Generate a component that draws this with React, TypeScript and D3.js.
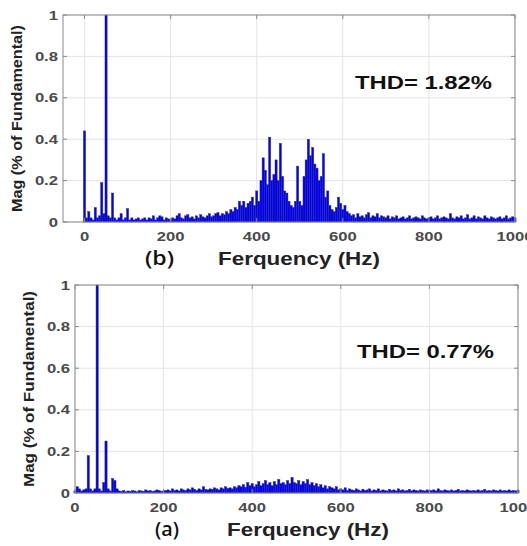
import React, { useEffect } from "react";
import * as d3 from "d3";

// spectrum bins, 5 Hz apart, 0..1000 Hz
const binHz = 5;

// (b) upper plot, THD 1.82%
const magB = [
  0.44, 0.02, 0.05, 0.02, 0.01, 0.07, 0.02, 0.03, 0.19, 0.04, 1.0, 0.03, 0.02, 0.14, 0.02, 0.01, 0.02, 0.04, 0.01, 0.02,
  0.065, 0.01, 0.02, 0.01, 0.015, 0.02, 0.01, 0.015, 0.02, 0.01, 0.02, 0.015, 0.03, 0.01, 0.02, 0.03, 0.025, 0.01, 0.02, 0.015,
  0.01, 0.02, 0.015, 0.03, 0.04, 0.02, 0.015, 0.03, 0.035, 0.02, 0.025, 0.015, 0.03, 0.02, 0.035, 0.025, 0.02, 0.03, 0.04, 0.025,
  0.03, 0.04, 0.045, 0.03, 0.04, 0.035, 0.05, 0.04, 0.06, 0.05, 0.07, 0.06, 0.1, 0.08, 0.1, 0.07, 0.09, 0.1, 0.12, 0.08,
  0.15, 0.1, 0.2, 0.31, 0.25, 0.18, 0.41, 0.2, 0.23, 0.3, 0.2, 0.38, 0.22, 0.15, 0.14, 0.1, 0.08, 0.07, 0.1, 0.27,
  0.1, 0.08, 0.22, 0.3, 0.4, 0.32, 0.36, 0.28, 0.26, 0.2, 0.22, 0.33, 0.12, 0.15, 0.08, 0.06, 0.05, 0.07, 0.12, 0.09,
  0.06, 0.08, 0.05, 0.04, 0.03, 0.035, 0.02, 0.04, 0.025, 0.03, 0.02, 0.035, 0.045, 0.02, 0.03, 0.025, 0.04, 0.02, 0.03, 0.025,
  0.02, 0.03, 0.015, 0.025, 0.02, 0.03, 0.015, 0.02, 0.025, 0.015, 0.02, 0.03, 0.015, 0.02, 0.025, 0.02, 0.015, 0.03, 0.02, 0.015,
  0.02, 0.025, 0.015, 0.02, 0.03, 0.015, 0.02, 0.025, 0.02, 0.015, 0.04, 0.02, 0.015, 0.025, 0.02, 0.03, 0.015, 0.02, 0.035, 0.015,
  0.02, 0.03, 0.015, 0.025, 0.02, 0.015, 0.03, 0.02, 0.015, 0.025, 0.02, 0.015, 0.02, 0.025, 0.015, 0.02, 0.03, 0.015, 0.02, 0.025,
  0.02,
];

// (a) lower plot, THD 0.77%
const magA = [
  0.01, 0.03, 0.02, 0.01, 0.015, 0.02, 0.18, 0.02, 0.01, 0.02, 1.0, 0.02, 0.01, 0.05, 0.25, 0.02, 0.01, 0.07, 0.06, 0.02,
  0.01, 0.008, 0.012, 0.006, 0.01, 0.008, 0.012, 0.01, 0.006, 0.012, 0.01, 0.008, 0.015, 0.01, 0.012, 0.008, 0.01, 0.015, 0.012, 0.008,
  0.01, 0.012, 0.015, 0.01, 0.02, 0.012, 0.015, 0.01, 0.02, 0.015, 0.012, 0.02, 0.015, 0.025, 0.018, 0.012, 0.02, 0.015, 0.03, 0.018,
  0.015, 0.02, 0.018, 0.025, 0.02, 0.015, 0.025, 0.02, 0.03, 0.022, 0.025, 0.02, 0.03, 0.025, 0.035, 0.03, 0.04, 0.028, 0.05, 0.035,
  0.045, 0.03, 0.04, 0.055, 0.035, 0.045, 0.06, 0.04, 0.05, 0.035, 0.055, 0.04, 0.065, 0.045, 0.05, 0.04, 0.06, 0.045, 0.075, 0.05,
  0.045, 0.06, 0.04, 0.055, 0.045, 0.065, 0.04, 0.05, 0.035, 0.045, 0.03, 0.04, 0.025, 0.035, 0.02, 0.03, 0.025, 0.02, 0.03, 0.015,
  0.02, 0.015, 0.025, 0.012, 0.02, 0.015, 0.012, 0.02, 0.015, 0.01, 0.018, 0.012, 0.015, 0.02, 0.01, 0.015, 0.012, 0.02, 0.01, 0.015,
  0.012, 0.01, 0.018, 0.012, 0.015, 0.01, 0.02, 0.012, 0.015, 0.01, 0.012, 0.018, 0.01, 0.015, 0.012, 0.01, 0.015, 0.012, 0.01, 0.015,
  0.01, 0.012, 0.015, 0.01, 0.02, 0.012, 0.01, 0.015, 0.012, 0.01, 0.015, 0.01, 0.012, 0.018, 0.01, 0.012, 0.01, 0.015, 0.012, 0.01,
  0.012, 0.01, 0.015, 0.01, 0.012, 0.018, 0.01, 0.012, 0.01, 0.015, 0.012, 0.01, 0.015, 0.01, 0.012, 0.01, 0.015, 0.01, 0.012, 0.01,
  0.012,
];

const xTicks = [0, 200, 400, 600, 800, 1000];
const yTicks = [0, 0.2, 0.4, 0.6, 0.8, 1];
const yTickLabels = ["0", "0.2", "0.4", "0.6", "0.8", "1"];
const xTitle = "Ferquency (Hz)";
const yTitle = "Mag (% of Fundamental)";

const font = "'Liberation Sans', Arial, sans-serif";
const sx = 1.28; // text in the picture is stretched sideways

function Panel({ mags, thd, tag, xDomain, left, right, top, bottom, lbl }) {
  const x = d3.scaleLinear().domain(xDomain).range([left, right]);
  const y = d3.scaleLinear().domain([0, 1]).range([bottom, top]);
  const w = x(binHz) - x(0);
  return (
    <g>
      {xTicks.map((t) => (
        <line key={"gx" + t} x1={x(t)} x2={x(t)} y1={top} y2={bottom} stroke="#e4e4e4" strokeWidth={1} />
      ))}
      {yTicks.map((t) => (
        <line key={"gy" + t} x1={left} x2={right} y1={y(t)} y2={y(t)} stroke="#e4e4e4" strokeWidth={1} />
      ))}
      {mags.map((m, i) => (
        <rect
          key={i}
          x={x(i * binHz) - w / 2}
          y={y(m)}
          width={w}
          height={y(0) - y(m)}
          fill="#0000f2"
          stroke="#2a2a8c"
          strokeWidth={0.45}
        />
      ))}
      <rect x={left} y={top} width={right - left} height={bottom - top} fill="none" stroke="#8a8a8a" strokeWidth={1} />
      {xTicks.map((t) => (
        <g key={"tx" + t}>
          <line x1={x(t)} x2={x(t)} y1={bottom} y2={bottom - 4} stroke="#8a8a8a" />
          <line x1={x(t)} x2={x(t)} y1={top} y2={top + 4} stroke="#8a8a8a" />
          <text
            transform={`translate(${x(t)},${bottom + 19}) scale(${sx},1)`}
            textAnchor="middle"
            fontFamily={font}
            fontWeight="bold"
            fontSize={13}
            fill="#4a4a4a"
          >
            {t}
          </text>
        </g>
      ))}
      {yTicks.map((t, i) => (
        <g key={"ty" + t}>
          <line x1={left} x2={left + 4} y1={y(t)} y2={y(t)} stroke="#8a8a8a" />
          <line x1={right} x2={right - 4} y1={y(t)} y2={y(t)} stroke="#8a8a8a" />
          <text
            transform={`translate(${left - 5},${y(t) + 4.5}) scale(${sx},1)`}
            textAnchor="end"
            fontFamily={font}
            fontWeight="bold"
            fontSize={13}
            fill="#4a4a4a"
          >
            {yTickLabels[i]}
          </text>
        </g>
      ))}
      <text
        x={lbl.thdX}
        y={lbl.thdY}
        textLength={137}
        lengthAdjust="spacingAndGlyphs"
        fontFamily={font}
        fontWeight="bold"
        fontSize={18}
        fill="#111"
      >
        {thd}
      </text>
      <text
        transform={`translate(${lbl.yTitleX},${(top + bottom) / 2}) rotate(-90)`}
        textAnchor="middle"
        textLength={lbl.yTitleLen}
        lengthAdjust="spacingAndGlyphs"
        fontFamily={font}
        fontWeight="bold"
        fontSize={14}
        fill="#222"
      >
        {yTitle}
      </text>
      <text
        x={lbl.tagX}
        y={lbl.titleY}
        textLength={lbl.tagLen}
        lengthAdjust="spacingAndGlyphs"
        fontFamily="'Open Sans', sans-serif"
        fontWeight="600"
        fontSize={19}
        fill="#111"
      >
        {tag}
      </text>
      <text
        x={lbl.titleX}
        y={lbl.titleY}
        textLength={162}
        lengthAdjust="spacingAndGlyphs"
        fontFamily={font}
        fontWeight="bold"
        fontSize={19}
        fill="#222"
      >
        {xTitle}
      </text>
    </g>
  );
}

export default function App() {
  useEffect(() => {
    document.body.style.margin = "0";
  }, []);
  return (
    <svg width={527} height={546} style={{ display: "block", background: "#fff" }}>
      <Panel
        mags={magB}
        thd="THD= 1.82%"
        tag="(b)"
        xDomain={[-50, 1000]}
        left={63}
        right={515}
        top={15}
        bottom={222}
        lbl={{ thdX: 355, thdY: 89, yTitleX: 22, yTitleLen: 187, tagX: 145, tagLen: 29, titleX: 218, titleY: 265 }}
      />
      <Panel
        mags={magA}
        thd="THD= 0.77%"
        tag="(a)"
        xDomain={[0, 1000]}
        left={75}
        right={518}
        top={285}
        bottom={493}
        lbl={{ thdX: 357, thdY: 358, yTitleX: 34, yTitleLen: 196, tagX: 155, tagLen: 24, titleX: 227, titleY: 536 }}
      />
    </svg>
  );
}
